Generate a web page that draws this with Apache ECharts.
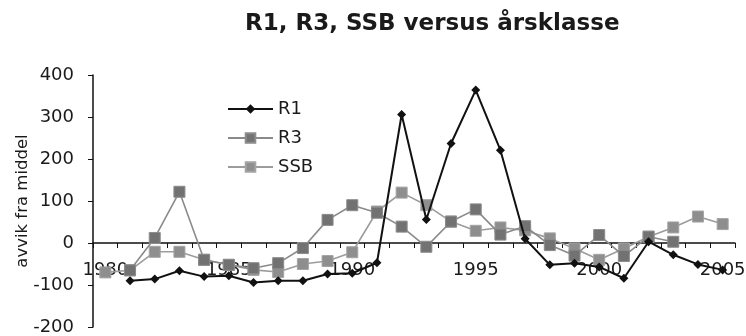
<!DOCTYPE html>
<html>
<head>
<meta charset="utf-8">
<script src="https://cdn.jsdelivr.net/npm/echarts@6/dist/echarts.min.js"></script>
<style>
  html, body { margin: 0; padding: 0; background: #fff; }
  #chart { width: 746px; height: 336px; }
</style>
</head>
<body>
<div id="chart"></div>
<script>
// Year classes on the category axis
const years = ['1980','1981','1982','1983','1984','1985','1986','1987','1988','1989',
               '1990','1991','1992','1993','1994','1995','1996','1997','1998','1999',
               '2000','2001','2002','2003','2004','2005'];

// Deviation from the mean for each index
const r1  = [null, -90, -86, -66, -80, -78, -94, -90, -90, -74,
             -72, -47, 306, 56, 237, 364, 221, 10, -52, -48,
             -57, -84, 3, -28, -51, -64];
const r3  = [null, -65, 12, 122, -40, -52, -60, -48, -12, 55,
             90, 72, 39, -9, 51, 80, 20, 40, -5, -30,
             19, -31, 15, 3, null, null];
const ssb = [-70, -65, -21, -21, -40, -52, -64, -69, -50, -43,
             -22, 75, 120, 90, 51, 29, 37, 30, 11, -13,
             -40, -13, 15, 37, 63, 45];

const yTicks = { min: -200, max: 400, step: 100 };

const font = 'DejaVu Sans, Liberation Sans, sans-serif';
const gridBottom = 9;
const chart = echarts.init(document.getElementById('chart'), null, { renderer: 'canvas' });

const option = {
  animation: false,
  backgroundColor: '#fff',
  title: {
    text: 'R1, R3, SSB versus årsklasse',
    left: 240,
    top: 8,
    textStyle: { fontFamily: font, fontSize: 23, fontWeight: 'bold', color: '#1a1a1a' }
  },
  legend: {
    orient: 'vertical',
    left: 222,
    top: 95,
    itemWidth: 45,
    itemHeight: 12,
    itemGap: 11,
    textStyle: { fontFamily: font, fontSize: 18, color: '#1a1a1a' },
    data: ['R1', 'R3', 'SSB']
  },
  grid: { left: 93, right: 11, top: 75, bottom: gridBottom, containLabel: false, outerBoundsMode: 'none' },
  xAxis: {
    type: 'category',
    data: years,
    boundaryGap: true,
    position: 'bottom',
    offset: 0,
    axisLine: { onZero: false, lineStyle: { color: '#111', width: 1.5 } },
    axisTick: { show: true, inside: false, length: 5, alignWithLabel: false, interval: 0,
                lineStyle: { color: '#111' } },
    axisLabel: { interval: 4, margin: 18, fontFamily: font, fontSize: 18, color: '#1a1a1a' },
    splitLine: { show: false }
  },
  yAxis: {
    type: 'value',
    min: yTicks.min,
    max: yTicks.max,
    interval: yTicks.step,
    name: 'avvik fra middel',
    nameLocation: 'middle',
    nameGap: 62,
    nameRotate: 90,
    nameMoveOverlap: false,
    nameTextStyle: { fontFamily: font, fontSize: 16.5, color: '#1a1a1a' },
    axisLine: { show: true, lineStyle: { color: '#111', width: 1.5 } },
    axisTick: { show: true, length: 5, lineStyle: { color: '#111' } },
    axisLabel: { margin: 19, fontFamily: font, fontSize: 18, color: '#1a1a1a' },
    splitLine: { show: false }
  },
  series: [
    {
      name: 'R1', type: 'line', data: r1, z: 5,
      symbol: 'diamond', symbolSize: 9,
      lineStyle: { color: '#111', width: 2 },
      itemStyle: { color: '#111' }
    },
    {
      name: 'R3', type: 'line', data: r3, z: 4,
      symbol: 'rect', symbolSize: 11,
      lineStyle: { color: '#8a8a8a', width: 1.6 },
      itemStyle: { color: '#727272', borderColor: '#8c8c8c', borderWidth: 1 }
    },
    {
      name: 'SSB', type: 'line', data: ssb, z: 3,
      symbol: 'rect', symbolSize: 11,
      lineStyle: { color: '#9c9c9c', width: 1.6 },
      itemStyle: { color: '#8e8e8e', borderColor: '#a4a4a4', borderWidth: 1 }
    }
  ]
};
chart.setOption(option);

// Lift the category axis (line, ticks and labels) onto the value-axis zero line.
const zeroY = chart.convertToPixel({ yAxisIndex: 0 }, 0);
const bottomY = chart.getHeight() - gridBottom;
chart.setOption({ xAxis: { offset: -(bottomY - zeroY) } });
</script>
</body>
</html>
